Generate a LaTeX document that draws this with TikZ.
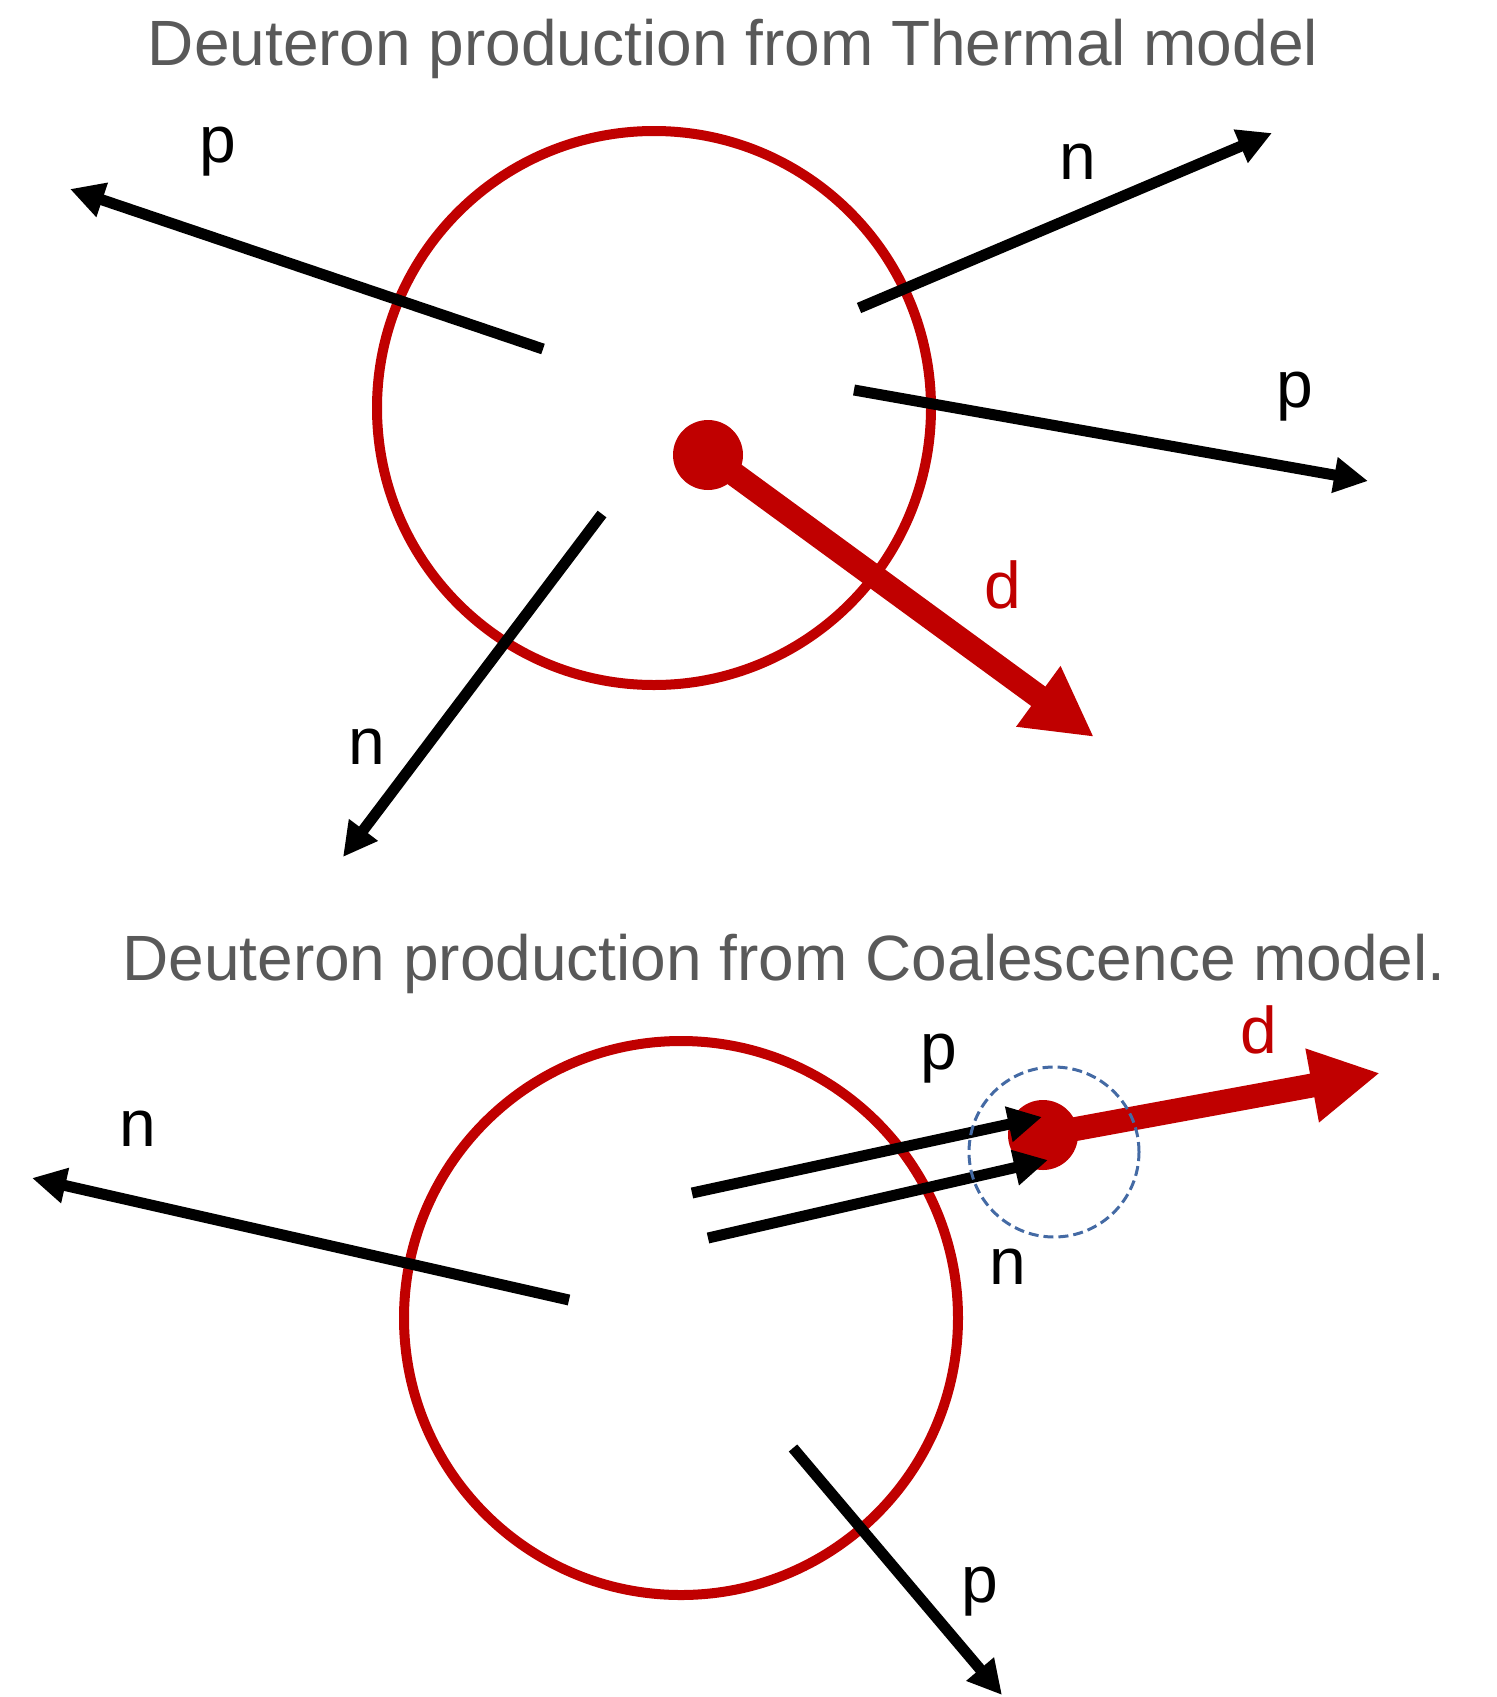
\documentclass[tikz,border=0pt]{standalone}
\usepackage{fontspec}
\setmainfont{Liberation Sans}
\usetikzlibrary{arrows.meta}
\definecolor{dred}{RGB}{192,0,0}
\definecolor{tgray}{RGB}{89,89,89}
\definecolor{dblue}{RGB}{68,106,164}
\begin{document}
\begin{tikzpicture}[x=0.5pt,y=-0.5pt,
  title/.style={font=\fontsize{32}{38}\selectfont, text=tgray, anchor=base, inner sep=0pt},
  lbl/.style={font=\fontsize{33}{40}\selectfont, inner sep=0pt},
  ring/.style={circle, draw=dred, line width=5pt, minimum size=277pt, inner sep=0pt},
  part/.style={draw=black, line width=5.5pt, -{Triangle[length=17pt,width=17pt]}},
  deut/.style={draw=dred, line width=12pt, -{Triangle[length=34.5pt,width=35pt]}},
  dot/.style={circle, fill=dred, minimum size=35pt, inner sep=0pt},
  cluster/.style={circle, draw=dblue, line width=1.5pt, dash pattern=on 5pt off 2.5pt, minimum size=85pt, inner sep=0pt}
]
\useasboundingbox (0,0) rectangle (1496,1697);

% ---------------- Thermal model ----------------
\node[title] (t1) at (733,65) {Deuteron production from Thermal model};
\node[ring] (c1) at (654,408) {};

\coordinate (p1s) at (543,349); \coordinate (p1e) at (70,189);
\coordinate (n2s) at (859,308); \coordinate (n2e) at (1272,133);
\coordinate (p3s) at (854,390); \coordinate (p3e) at (1368,481);
\coordinate (n4s) at (602,514); \coordinate (n4e) at (343,857);
\coordinate (d1e) at (1094,737);

\node[dot] (d1) at (708,455) {};
\draw[deut] (d1.center) -- (d1e);

\draw[part] (p1s) -- (p1e);
\draw[part] (n2s) -- (n2e);
\draw[part] (p3s) -- (p3e);
\draw[part] (n4s) -- (n4e);

\node[lbl] (lp1) at (218,152) {p};
\node[lbl] (ln2) at (1078,162) {n};
\node[lbl] (lp3) at (1295,397) {p};
\node[lbl] (ln4) at (367,747) {n};
\node[lbl, text=dred] (ld1) at (1003,585) {d};

% ---------------- Coalescence model ----------------
\node[title] (t2) at (784,980) {Deuteron production from Coalescence model.};
\node[ring] (c2) at (681,1318) {};

\coordinate (n5s) at (569,1300); \coordinate (n5e) at (32,1178);
\coordinate (p6s) at (692,1193); \coordinate (p6e) at (1042,1117);
\coordinate (n7s) at (708,1238); \coordinate (n7e) at (1048,1160);
\coordinate (p8s) at (793,1448); \coordinate (p8e) at (1002,1695);
\coordinate (d2e) at (1380,1073);

\node[dot] (d2) at (1043,1135) {};
\draw[deut] (d2.center) -- (d2e);

\draw[part] (n5s) -- (n5e);
\draw[part] (p6s) -- (p6e);
\draw[part] (n7s) -- (n7e);
\draw[part] (p8s) -- (p8e);

\node[cluster] (cl) at (1054,1152) {};

\node[lbl] (ln5) at (138,1129) {n};
\node[lbl] (lp6) at (939,1059) {p};
\node[lbl] (ln7) at (1008,1267) {n};
\node[lbl] (lp8) at (980,1592) {p};
\node[lbl, text=dred] (ld2) at (1259,1030) {d};
\end{tikzpicture}
\end{document}
